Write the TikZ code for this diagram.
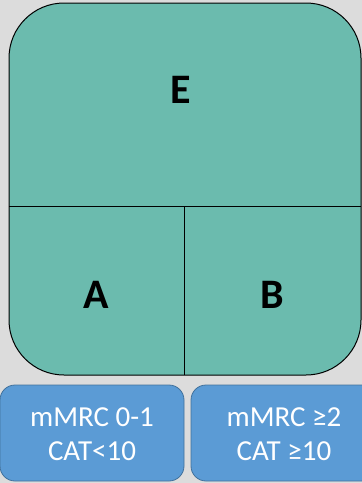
\documentclass[tikz,border=0pt]{standalone}
\usepackage{fontspec}
\setmainfont{Carlito}
\definecolor{bg}{HTML}{DCDCDC}
\definecolor{teal}{HTML}{6BBBAE}
\definecolor{bluefill}{HTML}{5B9BD5}
\definecolor{blueedge}{HTML}{41719C}
\tikzset{
  letter/.style={font=\fontsize{42}{50}\selectfont\bfseries, text=black},
  critbox/.style={draw=blueedge, fill=bluefill, line width=0.8pt, rounded corners=15pt},
  crittext/.style={font=\fontsize{29}{34}\selectfont, text=white, align=center},
}
\begin{document}
\begin{tikzpicture}[x=1pt,y=-1pt]
\useasboundingbox (0,0) rectangle (362,483);
\fill[bg] (0,0) rectangle (362,483);
\begin{scope}
\clip (0,0) rectangle (362,483);
\draw[critbox] (0,385) rectangle (184,481);
\draw[critbox] (191,385) rectangle (377,481);
\end{scope}
\draw[fill=teal, line width=1pt, rounded corners=55pt] (9,3) rectangle (361,375);
\draw[line width=1pt] (9,206) -- (361,206);
\draw[line width=1pt] (184,206) -- (184,375);
\node[letter] (E) at (181,90) {E};
\node[letter] (A) at (96,295) {A};
\node[letter] (B) at (272,295) {B};
\node[crittext] (L) at (92,434) {mMRC 0-1\\CAT<10};
\node[crittext] (R) at (284,434) {mMRC ≥2\\CAT ≥10};
\end{tikzpicture}
\end{document}
